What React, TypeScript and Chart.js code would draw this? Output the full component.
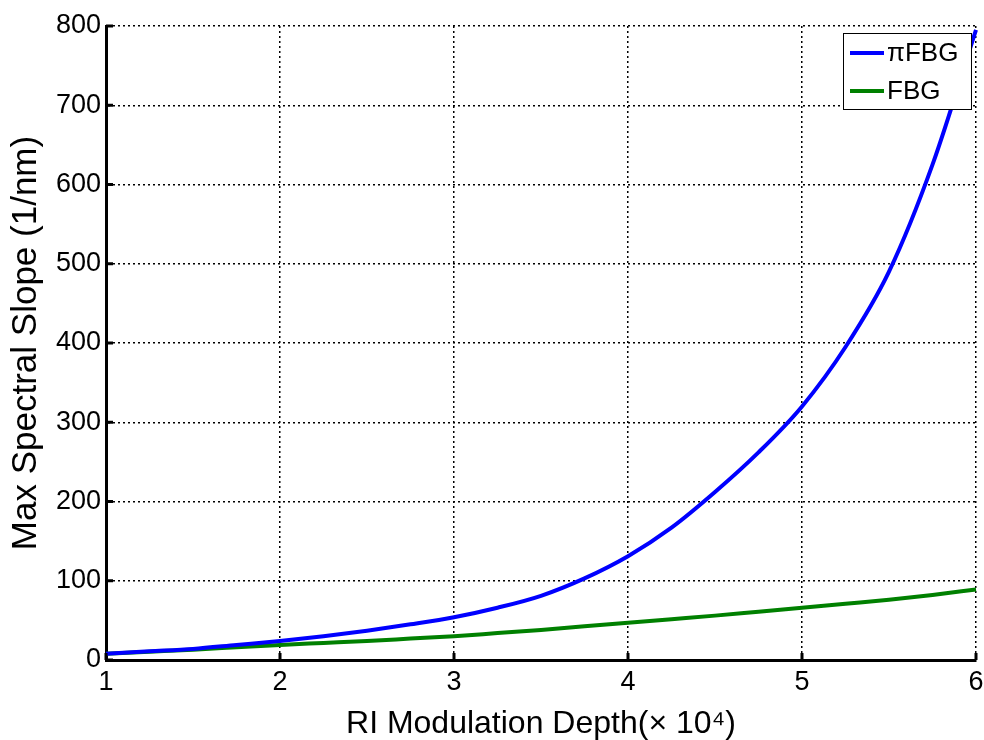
import React, { useEffect, useRef } from "react";
import { Chart, registerables } from "chart.js";

Chart.register(...registerables);

const xValues = [1, 1.25, 1.5, 1.75, 2, 2.25, 2.5, 2.75, 3, 3.25, 3.5, 3.75, 4, 4.25, 4.5, 4.75, 5, 5.25, 5.5, 5.75, 6];
const piFbgValues = [8, 11, 14, 19, 24, 30, 37, 45, 54, 66, 81, 103, 131, 167, 212, 262, 320, 395, 490, 625, 795];
const fbgValues = [8, 10.5, 13, 16, 19, 21.5, 24, 27, 30, 34, 38, 42.5, 47, 51.5, 56, 61, 66, 71, 76, 82, 89];
const seriesLabels = ["\u03c0FBG", "FBG"];
const seriesColors = ["#0000ff", "#008000"];
const xTitle = "RI Modulation Depth(\u00d7 10\u2074)";
const yTitle = "Max Spectral Slope (1/nm)";

const FONT = "'Liberation Sans', Arial, Helvetica, sans-serif";

const inwardTicks = {
  id: "inwardTicks",
  afterDraw(chart: any) {
    const { ctx, chartArea, scales } = chart;
    ctx.save();
    ctx.strokeStyle = "#000";
    ctx.lineWidth = 3;
    scales.x.ticks.forEach((t: any) => {
      const px = scales.x.getPixelForValue(t.value);
      ctx.beginPath();
      ctx.moveTo(px, chartArea.bottom);
      ctx.lineTo(px, chartArea.bottom - 7);
      ctx.stroke();
    });
    scales.y.ticks.forEach((t: any) => {
      const py = scales.y.getPixelForValue(t.value);
      ctx.beginPath();
      ctx.moveTo(chartArea.left, py);
      ctx.lineTo(chartArea.left + 7, py);
      ctx.stroke();
    });
    ctx.restore();
  },
};

const boxLegend = {
  id: "boxLegend",
  afterDraw(chart: any) {
    const { ctx, chartArea } = chart;
    const w = 128;
    const h = 76;
    const x0 = chartArea.right - 133;
    const y0 = chartArea.top + 7;
    ctx.save();
    ctx.fillStyle = "#fff";
    ctx.fillRect(x0, y0, w, h);
    ctx.strokeStyle = "#000";
    ctx.lineWidth = 1;
    ctx.strokeRect(x0 + 0.5, y0 + 0.5, w, h);
    ctx.font = `26px ${FONT}`;
    ctx.textBaseline = "middle";
    chart.data.datasets.forEach((ds: any, i: number) => {
      const cy = y0 + 20 + i * 38;
      ctx.strokeStyle = ds.borderColor;
      ctx.lineWidth = 4;
      ctx.beginPath();
      ctx.moveTo(x0 + 7, cy);
      ctx.lineTo(x0 + 41, cy);
      ctx.stroke();
      ctx.fillStyle = "#000";
      ctx.fillText(ds.label, x0 + 44, cy + 1);
    });
    ctx.restore();
  },
};

export default function App() {
  const ref = useRef<HTMLCanvasElement | null>(null);

  useEffect(() => {
    document.body.style.margin = "0";
    const canvas = ref.current;
    if (!canvas) return;
    const chart = new Chart(canvas, {
      type: "line",
      data: {
        datasets: [
          {
            label: seriesLabels[0],
            data: xValues.map((x, i) => ({ x, y: piFbgValues[i] })),
            borderColor: seriesColors[0],
            borderWidth: 4,
            pointRadius: 0,
            cubicInterpolationMode: "monotone",
            fill: false,
          },
          {
            label: seriesLabels[1],
            data: xValues.map((x, i) => ({ x, y: fbgValues[i] })),
            borderColor: seriesColors[1],
            borderWidth: 4,
            pointRadius: 0,
            cubicInterpolationMode: "monotone",
            fill: false,
          },
        ],
      },
      options: {
        animation: false,
        responsive: false,
        maintainAspectRatio: false,
        clip: false,
        layout: { padding: { left: 0, right: 8, top: 26, bottom: 0 } },
        plugins: {
          legend: { display: false },
          tooltip: { enabled: false },
        },
        scales: {
          x: {
            type: "linear",
            min: 1,
            max: 6,
            ticks: {
              stepSize: 1,
              color: "#000",
              font: { family: FONT, size: 27 },
              padding: 6,
            },
            grid: {
              color: "#000",
              lineWidth: 1.5,
              drawTicks: false,
            },
            border: { display: true, color: "#000", width: 3, dash: [2, 3] },
            title: {
              display: true,
              text: xTitle,
              color: "#000",
              font: { family: FONT, size: 32 },
              padding: { top: 0, bottom: -3 },
            },
            afterFit: (s: any) => {
              s.height = 80;
              s.paddingLeft = 0;
              s.paddingRight = 0;
            },
          },
          y: {
            type: "linear",
            min: 0,
            max: 800,
            ticks: {
              stepSize: 100,
              color: "#000",
              font: { family: FONT, size: 27 },
              padding: 5,
            },
            grid: {
              color: "#000",
              lineWidth: 1.5,
              drawTicks: false,
            },
            border: { display: true, color: "#000", width: 3, dash: [2, 3] },
            title: {
              display: true,
              text: yTitle,
              color: "#000",
              font: { family: FONT, size: 35 },
              padding: { top: 5, bottom: 0 },
            },
            afterFit: (s: any) => {
              s.width = 106;
              s.paddingTop = 0;
              s.paddingBottom = 0;
            },
          },
        },
      },
      plugins: [inwardTicks, boxLegend],
    });
    return () => chart.destroy();
  }, []);

  return (
    <div style={{ width: 984, height: 740, background: "#fff" }}>
      <canvas ref={ref} width={984} height={740} style={{ display: "block" }} />
    </div>
  );
}
